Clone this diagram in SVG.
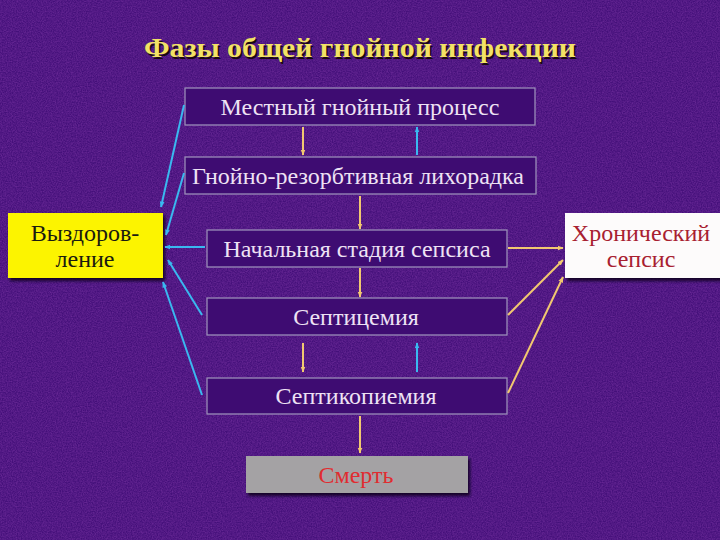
<svg xmlns="http://www.w3.org/2000/svg" width="720" height="540" viewBox="0 0 720 540">
<defs>
<filter id="noise" x="0" y="0" width="100%" height="100%">
<feTurbulence type="fractalNoise" baseFrequency="0.8" numOctaves="2" seed="3" result="n"/>
<feColorMatrix type="matrix" values="0 0 0 0 0.45  0 0 0 0 0.1  0 0 0 0 0.62  0 0 0 0.5 -0.12" />
</filter>
<filter id="shadow" x="-10%" y="-10%" width="130%" height="140%">
<feDropShadow dx="2" dy="3" stdDeviation="1.5" flood-color="#10001e" flood-opacity="0.9"/>
</filter>
<marker id="ay" viewBox="0 0 10 10" refX="9" refY="5" markerWidth="6" markerHeight="6" orient="auto" markerUnits="userSpaceOnUse">
<path d="M0,1 L10,5 L0,9 z" fill="#f2c870"/>
</marker>
<marker id="ab" viewBox="0 0 10 10" refX="9" refY="5" markerWidth="6" markerHeight="6" orient="auto" markerUnits="userSpaceOnUse">
<path d="M0,1 L10,5 L0,9 z" fill="#3ab8f0"/>
</marker>
<style>
.box{fill:#3e0c72;stroke:#9a8cb8;stroke-width:1.3}
.t{font-family:"Liberation Serif","Times New Roman",serif;font-size:24px;fill:#eee2f4;text-anchor:middle}
.y{stroke:#f2c870;stroke-width:2;fill:none;marker-end:url(#ay)}
.b{stroke:#3ab8f0;stroke-width:2;fill:none;marker-end:url(#ab)}
</style>
</defs>
<rect width="720" height="540" fill="#44107a"/>
<rect width="720" height="540" filter="url(#noise)"/>

<text x="360" y="57" text-anchor="middle" font-family="Liberation Serif, serif" font-weight="bold" font-size="27" fill="#1a0a10" textLength="432" lengthAdjust="spacingAndGlyphs" transform="translate(1.5,1.5)">Фазы общей гнойной инфекции</text>
<text x="360" y="57" text-anchor="middle" font-family="Liberation Serif, serif" font-weight="bold" font-size="27" fill="#f2e266" textLength="432" lengthAdjust="spacingAndGlyphs">Фазы общей гнойной инфекции</text>

<g id="n1"><rect class="box" x="185" y="88" width="350" height="37"/><text class="t" x="360" y="115">Местный гнойный процесс</text></g>
<g id="n2"><rect class="box" x="185" y="157" width="351" height="37"/><text class="t" x="358" y="184">Гнойно-резорбтивная лихорадка</text></g>
<g id="n3"><rect class="box" x="207" y="230" width="300" height="37"/><text class="t" x="357" y="257">Начальная стадия сепсиса</text></g>
<g id="n4"><rect class="box" x="207" y="298" width="300" height="37"/><text class="t" x="356" y="325">Септицемия</text></g>
<g id="n5"><rect class="box" x="207" y="378" width="300" height="36"/><text class="t" x="356" y="404">Септикопиемия</text></g>
<g id="n6"><rect x="246" y="456" width="222" height="37" fill="#a4a2a4" filter="url(#shadow)"/><text class="t" x="356" y="483" style="fill:#e02c30">Смерть</text></g>
<g id="recovery"><rect x="8" y="213" width="155" height="65" fill="#fcf400" filter="url(#shadow)"/><text class="t" x="85" y="241" style="fill:#1a1a10">Выздоров-</text><text class="t" x="85" y="267" style="fill:#1a1a10">ление</text></g>
<g id="chronic"><rect x="565" y="213" width="160" height="65" fill="#fdfbfb" filter="url(#shadow)"/><text class="t" x="641" y="241" style="fill:#a82030">Хронический</text><text class="t" x="641" y="267" style="fill:#a82030">сепсис</text></g>

<g id="connectors">
<line class="y" x1="303" y1="127" x2="303" y2="155"/>
<line class="b" x1="417" y1="155" x2="417" y2="127"/>
<line class="y" x1="360" y1="196" x2="360" y2="229"/>
<line class="y" x1="360" y1="268" x2="360" y2="297"/>
<line class="y" x1="303" y1="343" x2="303" y2="372"/>
<line class="b" x1="417" y1="372" x2="417" y2="343"/>
<line class="y" x1="360" y1="416" x2="360" y2="453"/>
<line class="b" x1="184" y1="105" x2="161" y2="207"/>
<line class="b" x1="184" y1="173" x2="166" y2="235"/>
<line class="b" x1="205" y1="247" x2="165" y2="247"/>
<line class="b" x1="202" y1="315" x2="168" y2="260"/>
<line class="b" x1="202" y1="395" x2="163" y2="282"/>
<line class="y" x1="508" y1="248" x2="563" y2="248"/>
<line class="y" x1="508" y1="315" x2="563" y2="260"/>
<line class="y" x1="508" y1="393" x2="563" y2="277"/>
</g>
</svg>
